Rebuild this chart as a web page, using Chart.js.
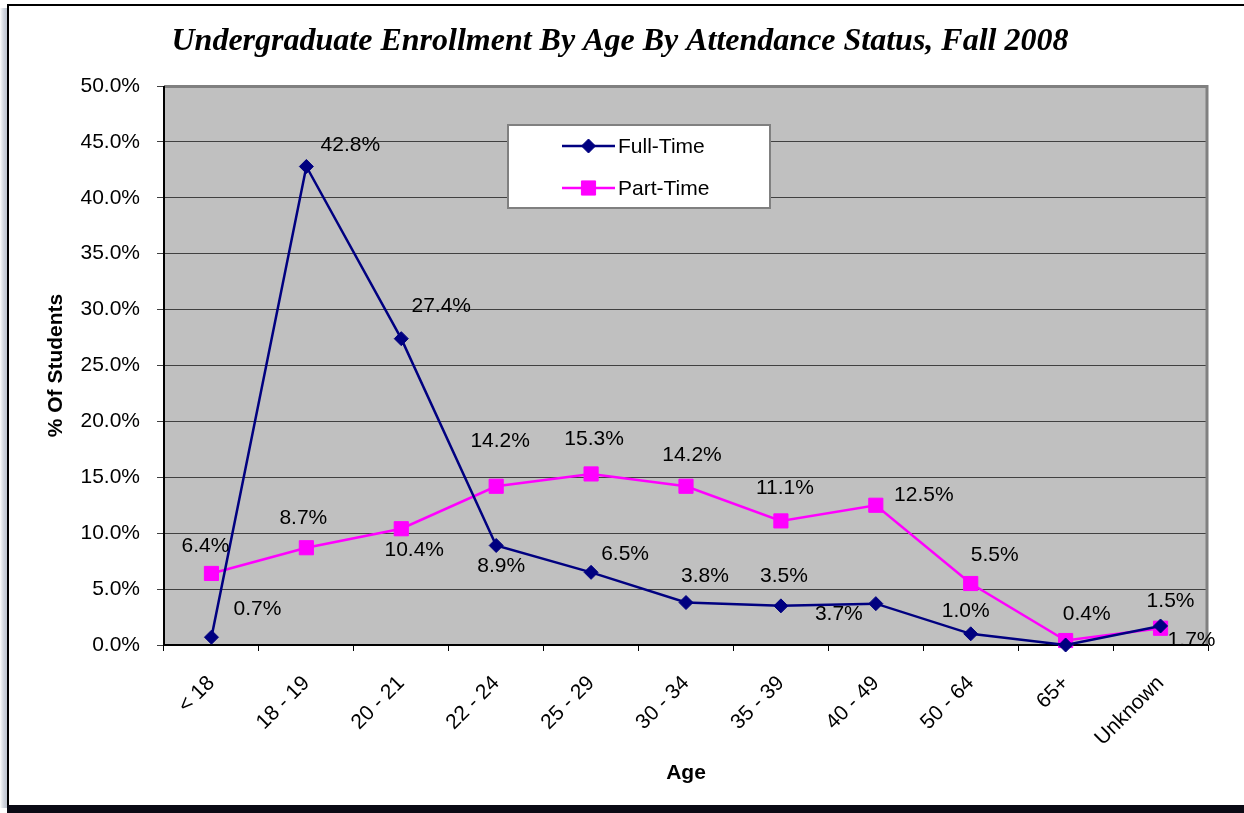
<!DOCTYPE html>
<html><head><meta charset="utf-8">
<script src="https://cdn.jsdelivr.net/npm/chart.js@4"></script>
<style>html,body{margin:0;padding:0;background:#fff;overflow:hidden}#wrap{position:relative;width:1244px;height:813px}</style>
</head><body><div id="wrap"><canvas id="c" width="1244" height="813"></canvas></div>
<script>
// ---- data ----
const categories = ['< 18', '18 - 19', '20 - 21', '22 - 24', '25 - 29', '30 - 34', '35 - 39', '40 - 49', '50 - 64', '65+', 'Unknown'];
const fullTime = [0.7, 42.8, 27.4, 8.9, 6.5, 3.8, 3.5, 3.7, 1.0, 0.0, 1.7];
const partTime = [6.4, 8.7, 10.4, 14.2, 15.3, 14.2, 11.1, 12.5, 5.5, 0.4, 1.5];
const fullTimeLabelShown = [true, true, true, true, true, true, true, true, true, false, true];
const partTimeLabelShown = [true, true, true, true, true, true, true, true, true, true, true];
const yTickValues = [0, 5, 10, 15, 20, 25, 30, 35, 40, 45, 50];

const FONT = '"Liberation Sans", Arial, sans-serif';
const FS = 21;

// label offsets (pixels from the point) — styling, not data
const labelOffsets = [
  [[46,-28],[44,-21],[40,-32],[5,21],[34,-18],[19,-26],[3,-30],[-37,11],[-5,-23],[0,0],[31,14]],
  [[-6,-27],[-3,-30],[13,21],[4,-45],[3,-35],[6,-31],[4,-33],[48,-10],[24,-28],[21,-26],[10,-27]]
];

function drawMarker(ctx, style, x, y, r, fill, stroke){
  ctx.save();
  ctx.fillStyle = fill; ctx.strokeStyle = stroke; ctx.lineWidth = 1;
  ctx.beginPath();
  if (style === 'rectRot') {
    ctx.moveTo(x - r, y); ctx.lineTo(x, y - r); ctx.lineTo(x + r, y); ctx.lineTo(x, y + r); ctx.closePath();
  } else {
    const s = r * Math.SQRT1_2;
    ctx.rect(x - s, y - s, 2 * s, 2 * s);
  }
  ctx.fill(); ctx.stroke();
  ctx.restore();
}

const framePlugin = {
  id: 'frame',
  beforeDraw(chart) {
    const ctx = chart.ctx;
    const {left, top, right, bottom} = chart.chartArea;
    ctx.save();
    ctx.fillStyle = '#ffffff';
    ctx.fillRect(0, 0, chart.width, chart.height);
    const g = ctx.createLinearGradient(0, 0, 7, 0);
    g.addColorStop(0, 'rgba(255,255,255,1)');
    g.addColorStop(1, 'rgba(150,160,180,0.6)');
    ctx.fillStyle = g;
    ctx.fillRect(0, 8, 7, 800);
    ctx.strokeStyle = '#000'; ctx.lineWidth = 2;
    ctx.beginPath();
    ctx.moveTo(8, 805); ctx.lineTo(8, 5); ctx.lineTo(1244, 5);
    ctx.stroke();
    ctx.fillStyle = '#0a0a14';
    ctx.fillRect(7, 805, 1237, 8);
    ctx.fillStyle = '#c0c0c0';
    ctx.fillRect(left, top, right - left, bottom - top);
    ctx.restore();
  },
  beforeDatasetsDraw(chart) {
    const ctx = chart.ctx;
    const {left, top, right, bottom} = chart.chartArea;
    ctx.save();
    ctx.strokeStyle = '#808080'; ctx.lineWidth = 3;
    ctx.beginPath();
    ctx.moveTo(left, top + 0.5); ctx.lineTo(right - 1, top + 0.5); ctx.lineTo(right - 1, bottom);
    ctx.stroke();
    ctx.strokeStyle = '#000'; ctx.lineWidth = 2;
    ctx.beginPath();
    ctx.moveTo(left, top); ctx.lineTo(left, bottom); ctx.lineTo(right, bottom);
    ctx.stroke();
    ctx.restore();
  }
};

const labelPlugin = {
  id: 'pointLabels',
  afterDatasetsDraw(chart, args, opts) {
    const ctx = chart.ctx;
    ctx.save();
    ctx.font = FS + 'px ' + FONT;
    ctx.fillStyle = '#000';
    ctx.textAlign = 'center';
    ctx.textBaseline = 'middle';
    chart.data.datasets.forEach((ds, i) => {
      const meta = chart.getDatasetMeta(i);
      meta.data.forEach((pt, j) => {
        if (!ds.showLabel[j]) return;
        const o = opts.offsets[i][j];
        ctx.fillText(ds.data[j].toFixed(1) + '%', pt.x + o[0], pt.y + o[1]);
      });
    });
    ctx.restore();
  }
};

const legendPlugin = {
  id: 'boxLegend',
  afterDatasetsDraw(chart, args, opts) {
    const ctx = chart.ctx;
    const b = opts.box;
    ctx.save();
    ctx.fillStyle = '#fff';
    ctx.fillRect(b.x, b.y, b.w, b.h);
    ctx.strokeStyle = '#808080'; ctx.lineWidth = 2;
    ctx.strokeRect(b.x, b.y, b.w, b.h);
    ctx.font = FS + 'px ' + FONT;
    ctx.textBaseline = 'middle';
    ctx.textAlign = 'left';
    chart.data.datasets.forEach((ds, i) => {
      const y = b.y + opts.rowY[i];
      ctx.strokeStyle = ds.borderColor; ctx.lineWidth = ds.borderWidth;
      ctx.beginPath(); ctx.moveTo(b.x + opts.lineX0, y); ctx.lineTo(b.x + opts.lineX1, y); ctx.stroke();
      drawMarker(ctx, ds.pointStyle, b.x + (opts.lineX0 + opts.lineX1) / 2, y, ds.pointRadius, ds.pointBackgroundColor, ds.pointBorderColor);
      ctx.fillStyle = '#000';
      ctx.fillText(ds.label, b.x + opts.textX, y + 1);
    });
    ctx.restore();
  }
};

new Chart(document.getElementById('c'), {
  type: 'line',
  data: {
    labels: categories,
    datasets: [
      {
        label: 'Full-Time', data: fullTime, showLabel: fullTimeLabelShown,
        borderColor: '#000080', backgroundColor: '#000080', borderWidth: 2.5,
        pointStyle: 'rectRot', pointRadius: 7, pointHoverRadius: 7,
        pointBackgroundColor: '#000080', pointBorderColor: '#000080', pointBorderWidth: 1,
        tension: 0, fill: false, clip: false
      },
      {
        label: 'Part-Time', data: partTime, showLabel: partTimeLabelShown,
        borderColor: '#ff00ff', backgroundColor: '#ff00ff', borderWidth: 2.5,
        pointStyle: 'rect', pointRadius: 10, pointHoverRadius: 10,
        pointBackgroundColor: '#ff00ff', pointBorderColor: '#ff00ff', pointBorderWidth: 1,
        tension: 0, fill: false, clip: false
      }
    ]
  },
  options: {
    responsive: false,
    animation: false,
    devicePixelRatio: 1,
    layout: { padding: { left: 32, right: 36, top: 0, bottom: 0 } },
    plugins: {
      legend: { display: false },
      tooltip: { enabled: false },
      title: {
        display: true,
        text: 'Undergraduate Enrollment By Age By Attendance Status, Fall 2008',
        color: '#000',
        font: { family: '"Liberation Serif", "Times New Roman", serif', size: 32, weight: 'bold', style: 'italic', lineHeight: 1.2 },
        padding: { top: 23, bottom: 24.6 }
      },
      pointLabels: { offsets: labelOffsets },
      boxLegend: { box: { x: 508, y: 125, w: 262, h: 83 }, rowY: [21, 63], lineX0: 54, lineX1: 107, textX: 110 }
    },
    scales: {
      x: {
        type: 'category',
        offset: true,
        border: { display: false },
        grid: { display: true, offset: true, drawOnChartArea: false, drawTicks: true, tickLength: 6, color: '#000', lineWidth: 1 },
        ticks: { color: '#000', font: { family: FONT, size: FS }, minRotation: 45, maxRotation: 45, padding: 20, autoSkip: false },
        title: { display: true, text: 'Age', color: '#000', font: { family: FONT, size: FS, weight: 'bold', lineHeight: 1.2 }, padding: { top: 0, bottom: 27.5 } },
        afterFit(s) { s.height = 168; }
      },
      y: {
        min: 0, max: 50,
        border: { display: false },
        afterBuildTicks(s) { s.ticks = yTickValues.map(v => ({ value: v })); },
        grid: { color: '#404040', lineWidth: 1, drawTicks: true, tickLength: 7 },
        ticks: { color: '#000', font: { family: FONT, size: FS }, padding: 17, callback: v => Number(v).toFixed(1) + '%' },
        title: { display: true, text: '% Of Students', color: '#000', font: { family: FONT, size: FS, weight: 'bold', lineHeight: 1.2 }, padding: { top: 11.5, bottom: 0 } },
        afterFit(s) { s.width = 132; }
      }
    }
  },
  plugins: [framePlugin, labelPlugin, legendPlugin]
});
</script>
</body></html>
